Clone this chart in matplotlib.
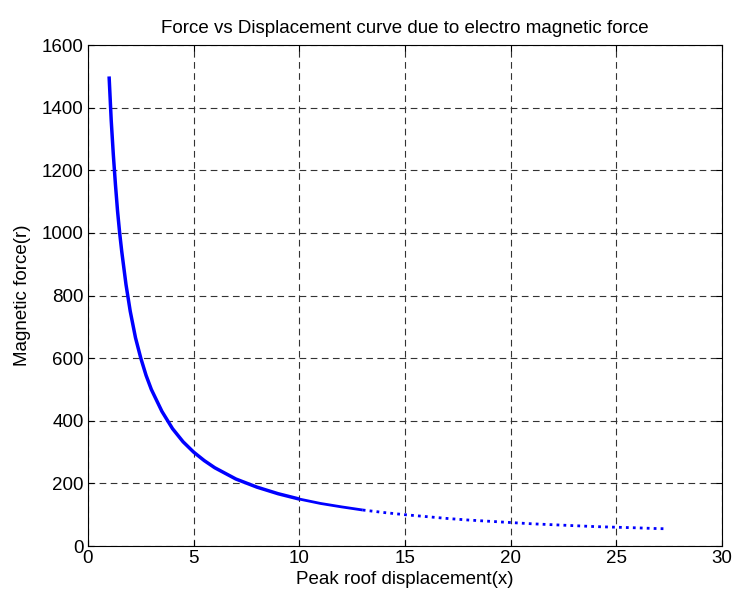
import numpy as np
import matplotlib.pyplot as plt

# values
disp = [1.0, 1.05, 1.1, 1.2, 1.3, 1.4, 1.5, 1.6, 1.8, 2.0, 2.25, 2.5, 2.75, 3.0,
        3.5, 4.0, 4.5, 5.0, 5.5, 6.0, 7.0, 8.0, 9.0, 10.0, 11.0, 12.0, 13.0,
        14.0, 15.0, 16.0, 17.0, 18.0, 19.0, 20.0, 21.0, 22.0, 23.0, 24.0,
        25.0, 26.0, 26.8, 27.4]
force = [1500, 1430, 1360, 1250, 1155, 1070, 1000, 940, 835, 750, 665, 600,
         545, 500, 430, 375, 333, 300, 273, 250, 214, 188, 167, 150, 136, 125,
         115, 107, 100, 94, 88, 83, 79, 75, 71, 68, 65, 62, 60, 58, 56, 55]

plt.rcParams['font.family'] = ['Liberation Sans', 'DejaVu Sans']
plt.rcParams['font.size'] = 13.5

fig = plt.figure(figsize=(7.33, 5.97), dpi=100)
ax = fig.add_axes([0.120, 0.0854, 0.865, 0.839])

# dense part is drawn solid, thinning out, sparse tail as dots
a = disp.index(10.0)
b = disp.index(13.0)
ax.plot(disp[:a + 1], force[:a + 1], color='#0000ff', lw=2.5,
        solid_capstyle='butt')
ax.plot(disp[a:b + 1], force[a:b + 1], color='#0000ff', lw=2.0,
        solid_capstyle='butt')
ax.plot(disp[b:], force[b:], color='#0000ff', lw=2.0,
        linestyle=(0, (1.0, 1.5)))

ax.set_xlim(0, 30)
ax.set_ylim(0, 1600)
ax.set_xticks(np.arange(0, 31, 5))
ax.set_yticks(np.arange(0, 1601, 200))
ax.grid(True, color='0.2', lw=0.8, linestyle=(0, (6, 4)))
ax.tick_params(direction='in', top=True, right=True, length=4, width=0.8,
               pad=3)
for s in ax.spines.values():
    s.set_linewidth(0.8)

ax.set_title('Force vs Displacement curve due to electro magnetic force',
             fontsize=13.5, pad=9)
ax.set_xlabel('Peak roof displacement(x)', labelpad=3)
ax.set_ylabel('Magnetic force(r)', labelpad=8)

fig.savefig('out.png', dpi=100)
